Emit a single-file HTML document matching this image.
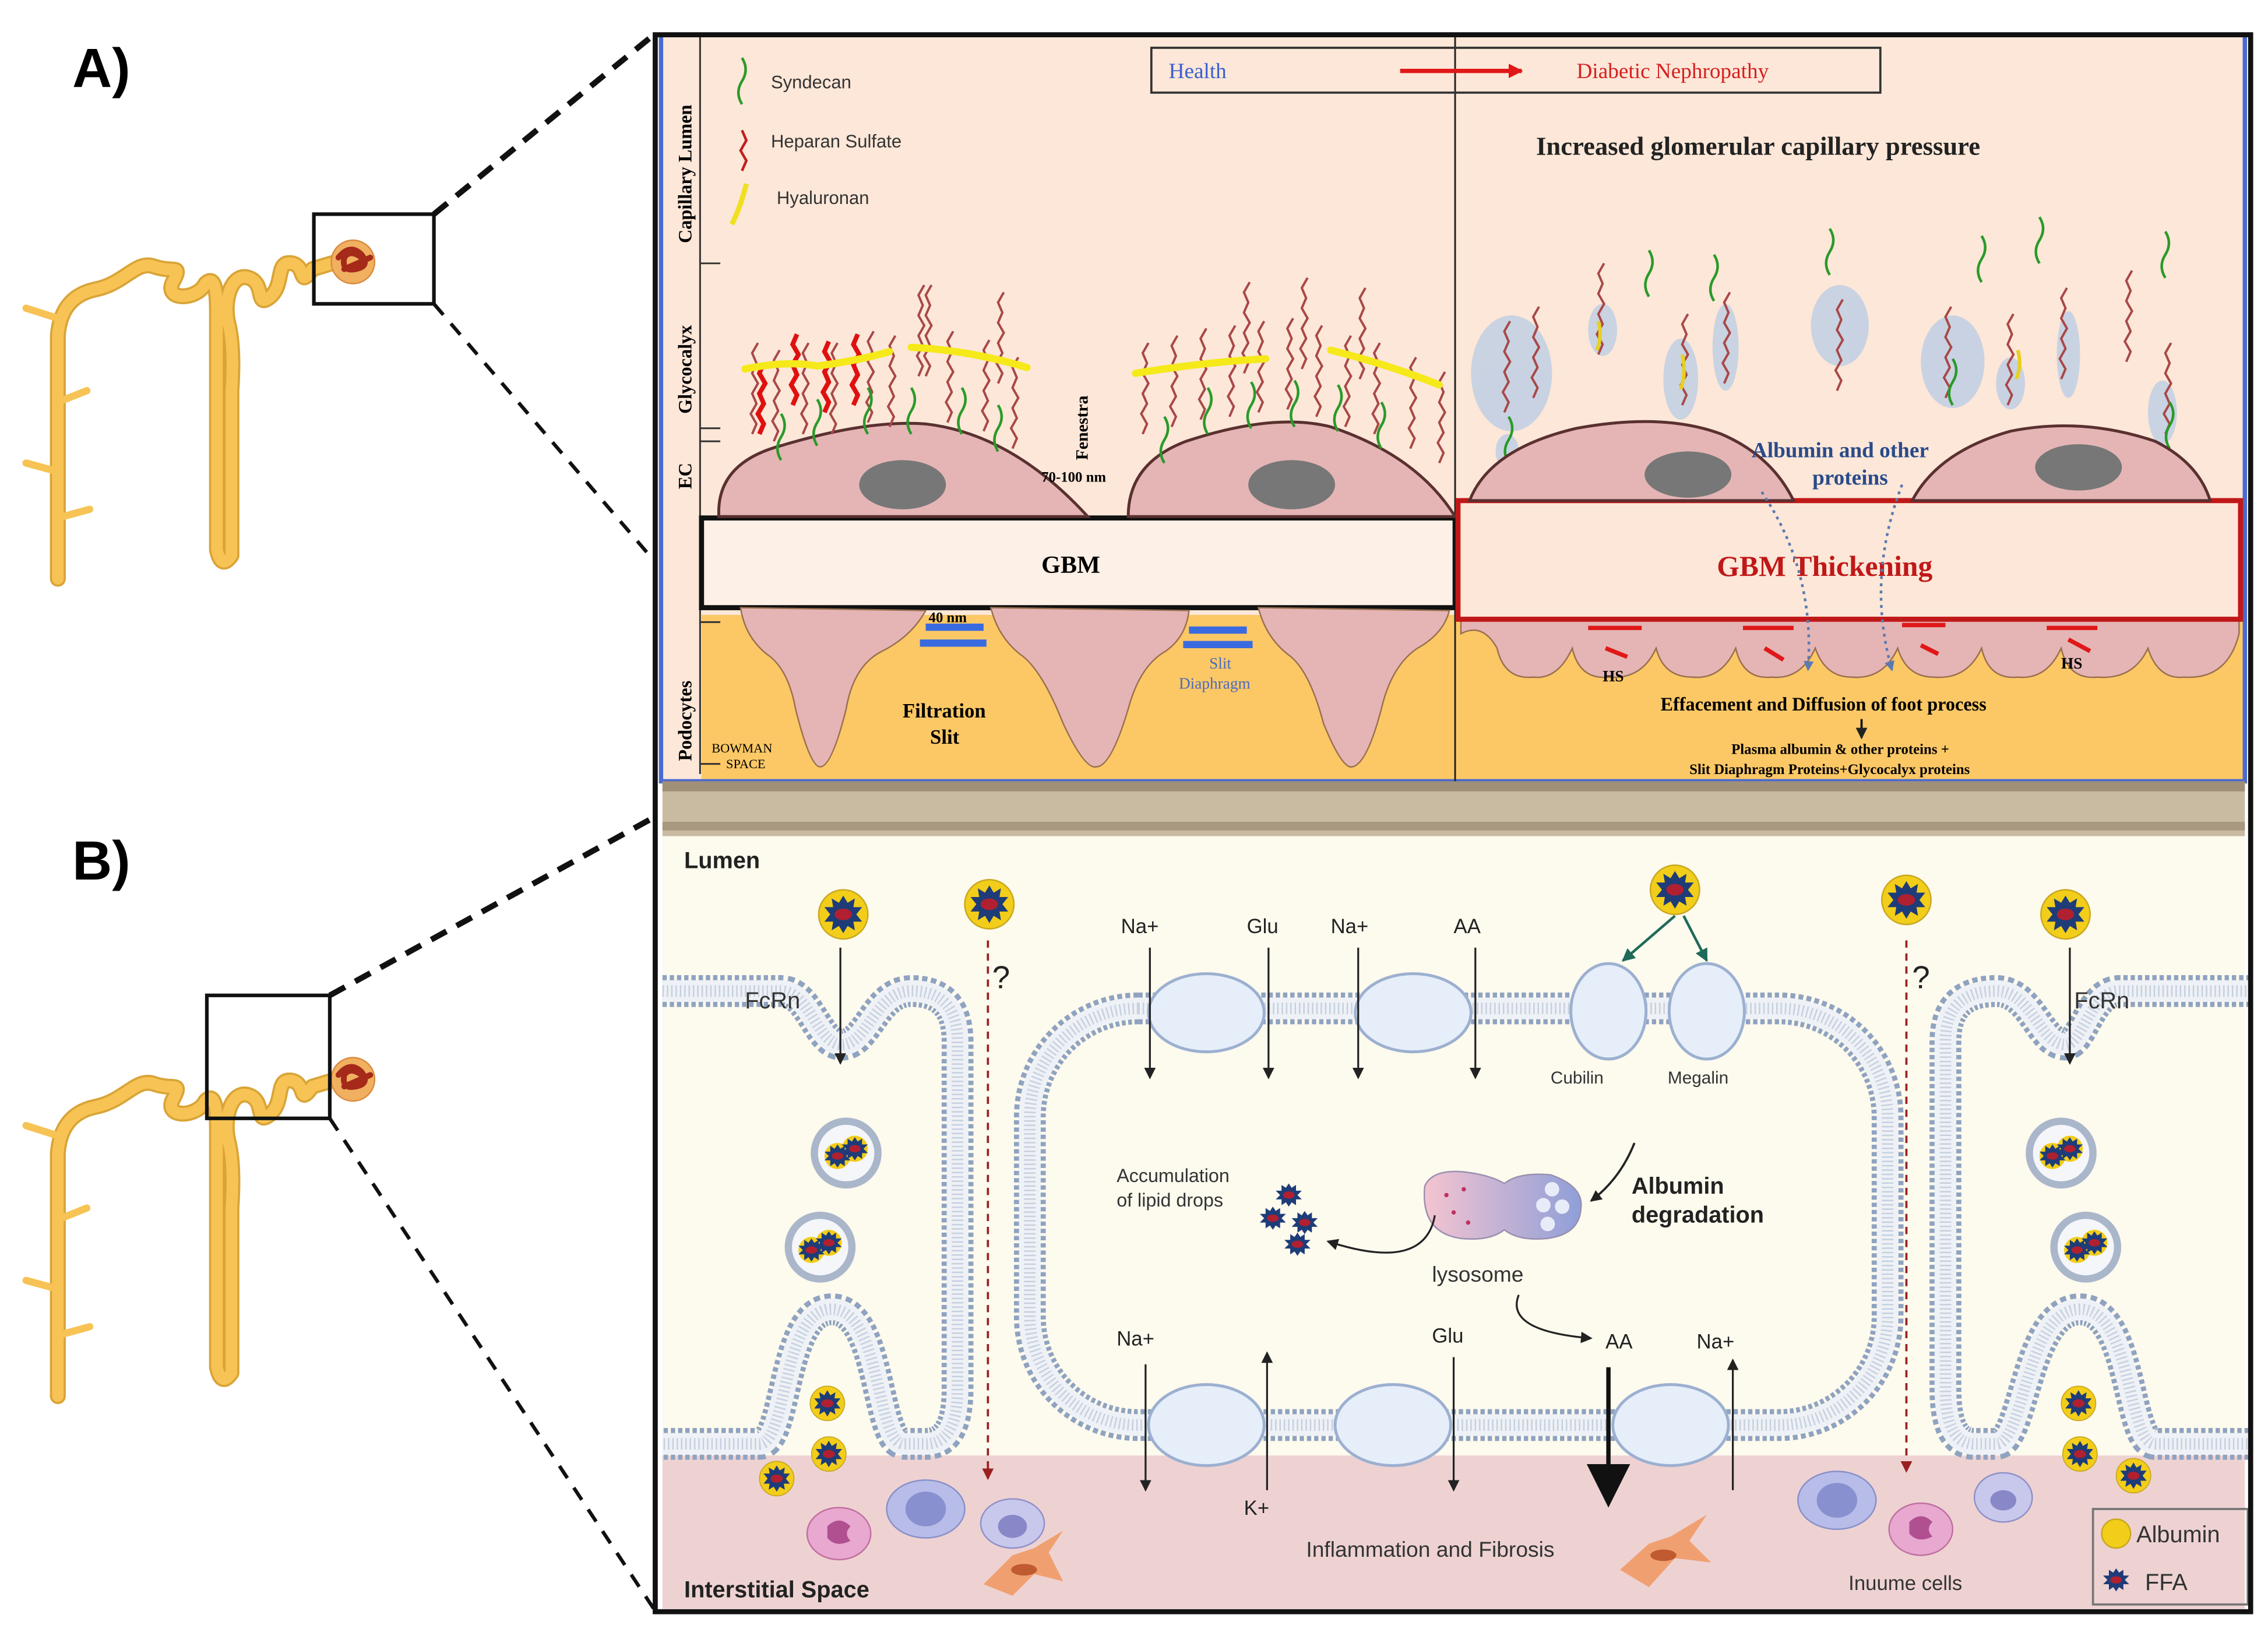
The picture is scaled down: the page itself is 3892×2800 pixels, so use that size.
<!DOCTYPE html>
<html><head><meta charset="utf-8"><style>
html,body{margin:0;padding:0;background:#fff;}
svg{display:block;}
.s{font-family:"Liberation Serif",serif;}
.a{font-family:"Liberation Sans",sans-serif;}
</style></head><body>
<svg width="3892" height="2800" viewBox="0 0 1568 1128" xmlns="http://www.w3.org/2000/svg">
<defs>
<g id="neph">
<path d="M40,400 L40,232 Q42,205 66,200 C86,196 94,180 106,184 C120,189 126,182 120,194 C112,208 136,208 142,196 Q150,188 150,215 L150,380 Q153,394 160,384 L160,270 Q162,240 158,224 C154,208 160,188 172,192 C184,196 176,214 187,205 C197,196 190,180 202,182 C212,184 206,200 216,186 L236,180" fill="none" stroke="#d9a437" stroke-width="11" stroke-linecap="round" stroke-linejoin="round"/>
<path d="M40,400 L40,232 Q42,205 66,200 C86,196 94,180 106,184 C120,189 126,182 120,194 C112,208 136,208 142,196 Q150,188 150,215 L150,380 Q153,394 160,384 L160,270 Q162,240 158,224 C154,208 160,188 172,192 C184,196 176,214 187,205 C197,196 190,180 202,182 C212,184 206,200 216,186 L236,180" fill="none" stroke="#f7c355" stroke-width="8" stroke-linecap="round" stroke-linejoin="round"/>
<g stroke="#f7c355" stroke-width="5" stroke-linecap="round"><line x1="18" y1="213" x2="40" y2="220"/><line x1="40" y1="278" x2="60" y2="270"/><line x1="18" y1="320" x2="40" y2="326"/><line x1="40" y1="358" x2="62" y2="352"/></g>
<circle cx="244" cy="181" r="15" fill="#f0b060" stroke="#d98b40"/>
<path d="M234,178 q8,-10 16,-2 q6,8 -4,10 q-10,2 -8,-8 q4,-6 12,0 M238,186 l18,-8" fill="none" stroke="#a52a1a" stroke-width="4" stroke-linecap="round"/>
</g>
<path id="hs" d="M0,0 l3,-7 l-4,-7 l4,-7 l-3,-7 l4,-7 l-4,-7 l3,-7 l-3,-7 l4,-7" fill="none" stroke="#a84848" stroke-width="1.6"/>
<path id="hsR" d="M0,0 l3,-7 l-4,-7 l4,-7 l-3,-7 l4,-7 l-4,-7 l3,-7" fill="none" stroke="#e01010" stroke-width="3.2"/>
<path id="syn" d="M0,0 q-5,-8 0,-16 q5,-8 0,-16" fill="none" stroke="#2a9a2a" stroke-width="1.8"/>
<g id="alb"><circle r="17" fill="#f2cd1a" stroke="#c8a820"/><polygon points="0,-13 3,-8 8,-11 7,-5 13,-5 9,0 13,5 7,5 8,11 3,8 0,13 -3,8 -8,11 -7,5 -13,5 -9,0 -13,-5 -7,-5 -8,-11 -3,-8" fill="#1e3c78"/><ellipse rx="6" ry="4" fill="#b02030"/></g>
<g id="ffa"><polygon points="0,-8 2,-5 5,-7 5,-3 9,-3 6,0 9,3 5,3 5,7 2,5 0,8 -2,5 -5,7 -5,3 -9,3 -6,0 -9,-3 -5,-3 -5,-7 -2,-5" fill="#1e3c78"/><ellipse rx="4" ry="2.5" fill="#b02030"/></g>
<g id="ves"><circle r="22" fill="#f4f6fa" stroke="#aab6ca" stroke-width="5"/><circle cx="-6" cy="2" r="9" fill="#f2cd1a"/><circle cx="6" cy="-3" r="9" fill="#f2cd1a"/><use href="#ffa" x="-6" y="2" transform=""/><use href="#ffa" x="6" y="-3"/></g>
<marker id="ar" markerWidth="8" markerHeight="8" refX="7" refY="4" orient="auto" markerUnits="userSpaceOnUse"><path d="M0,0 L8,4 L0,8 Z" fill="#222"/></marker>
<marker id="arR" markerWidth="10" markerHeight="10" refX="9" refY="5" orient="auto" markerUnits="userSpaceOnUse"><path d="M0,0 L10,5 L0,10 Z" fill="#e01818"/></marker>
<marker id="arD" markerWidth="8" markerHeight="8" refX="7" refY="4" orient="auto" markerUnits="userSpaceOnUse"><path d="M0,0 L8,4 L0,8 Z" fill="#9a2020"/></marker>
<marker id="arG" markerWidth="9" markerHeight="9" refX="8" refY="4.5" orient="auto" markerUnits="userSpaceOnUse"><path d="M0,0 L9,4.5 L0,9 Z" fill="#1f6a5a"/></marker>
<marker id="arB" markerWidth="7" markerHeight="7" refX="6" refY="3.5" orient="auto" markerUnits="userSpaceOnUse"><path d="M0,0 L7,3.5 L0,7 Z" fill="#5a7ab0"/></marker>
<linearGradient id="lys" x1="0" x2="1"><stop offset="0" stop-color="#f4c4d0"/><stop offset="1" stop-color="#8f9fd8"/></linearGradient>
</defs>

<!-- left nephrons -->
<use href="#neph"/>
<use href="#neph" y="565"/>
<text x="50" y="60" class="a" font-size="38" font-weight="bold">A)</text>
<text x="50" y="608" class="a" font-size="38" font-weight="bold">B)</text>
<rect x="217" y="148" width="83" height="62" fill="none" stroke="#111" stroke-width="2.5"/>
<rect x="143" y="688" width="85" height="85" fill="none" stroke="#111" stroke-width="2.5"/>
<line x1="300" y1="148" x2="452" y2="24" stroke="#111" stroke-width="4" stroke-dasharray="12 8"/>
<line x1="300" y1="210" x2="450" y2="385" stroke="#111" stroke-width="2.5" stroke-dasharray="10 8"/>
<line x1="228" y1="688" x2="452" y2="565" stroke="#111" stroke-width="4" stroke-dasharray="12 8"/>
<line x1="228" y1="773" x2="452" y2="1112" stroke="#111" stroke-width="2.5" stroke-dasharray="10 8"/>

<!-- top panel -->
<rect x="457" y="24" width="1095" height="516" fill="#fce7d8"/>
<rect x="485" y="425" width="1067" height="115" fill="#fcc865"/>
<rect x="457" y="24" width="1095" height="516" fill="none" stroke="#4a6ad0" stroke-width="3"/>
<line x1="1006" y1="24" x2="1006" y2="545" stroke="#222" stroke-width="1.2"/>
<line x1="484" y1="24" x2="484" y2="535" stroke="#333" stroke-width="1.2"/>
<g stroke="#333" stroke-width="1.2"><line x1="484" y1="182" x2="498" y2="182"/><line x1="484" y1="296" x2="498" y2="296"/><line x1="484" y1="305" x2="498" y2="305"/><line x1="484" y1="430" x2="498" y2="430"/><line x1="484" y1="528" x2="498" y2="528"/></g>
<text class="s" font-size="13" font-weight="bold" transform="translate(478,168) rotate(-90)">Capillary Lumen</text>
<text class="s" font-size="13" font-weight="bold" transform="translate(478,286) rotate(-90)">Glycocalyx</text>
<text class="s" font-size="13" font-weight="bold" transform="translate(478,338) rotate(-90)">EC</text>
<text class="s" font-size="13" font-weight="bold" transform="translate(478,526) rotate(-90)">Podocytes</text>
<text class="s" font-size="9" x="492" y="520">BOWMAN</text><text class="s" font-size="9" x="502" y="531">SPACE</text>
<!-- legend -->
<use href="#syn" x="513" y="72"/>
<text class="a" x="533" y="61" font-size="12.5" fill="#333">Syndecan</text>
<path d="M513,118 l3,-7 l-4,-7 l4,-7 l-3,-7" fill="none" stroke="#c02020" stroke-width="1.8"/>
<text class="a" x="533" y="102" font-size="12.5" fill="#333">Heparan Sulfate</text>
<path d="M506,155 q6,-12 10,-28" fill="none" stroke="#f0e020" stroke-width="3.5"/>
<text class="a" x="537" y="141" font-size="12.5" fill="#333">Hyaluronan</text>
<rect x="796" y="33" width="504" height="31" fill="none" stroke="#333" stroke-width="1.5"/>
<text class="s" x="808" y="54" font-size="15" fill="#3a5fd0">Health</text>
<line x1="968" y1="49" x2="1052" y2="49" stroke="#e01818" stroke-width="3" marker-end="url(#arR)"/>
<text class="s" x="1090" y="54" font-size="15" fill="#d81f1f">Diabetic Nephropathy</text>
<text class="s" x="1062" y="107" font-size="18" font-weight="bold" fill="#222">Increased glomerular capillary  pressure</text>

<!-- GBM -->
<rect x="485" y="358" width="521" height="62" fill="#fdf0e6" stroke="#111" stroke-width="3.5"/>
<text class="s" x="720" y="396" font-size="17" font-weight="bold">GBM</text>
<!-- left podocyte feet -->
<g fill="#e5b5b5" stroke="#9a7050" stroke-width="1">
<path d="M512,420 Q515,440 530,452 Q545,462 550,490 Q560,530 567,530 Q575,530 585,490 Q590,460 610,450 Q630,440 640,422 Z"/>
<path d="M685,420 Q690,440 705,452 Q720,462 735,500 Q750,532 758,530 Q768,530 780,490 Q788,460 806,450 Q820,440 822,422 Z"/>
<path d="M870,420 Q875,440 890,452 Q905,462 915,500 Q928,532 935,530 Q945,528 955,490 Q962,460 980,448 Q998,438 1002,422 Z"/>
</g>
<g fill="#3a6ae0"><rect x="640" y="431" width="40" height="5"/><rect x="636" y="442" width="46" height="5"/><rect x="822" y="433" width="40" height="5"/><rect x="818" y="443" width="48" height="5"/></g>
<text class="s" x="642" y="430" font-size="10" font-weight="bold">40 nm</text>
<text class="s" x="836" y="462" font-size="11" fill="#4a6ac0">Slit</text>
<text class="s" x="815" y="476" font-size="11" fill="#4a6ac0">Diaphragm</text>
<text class="s" x="624" y="496" font-size="14" font-weight="bold">Filtration</text>
<text class="s" x="643" y="514" font-size="14" font-weight="bold">Slit</text>
<!-- left EC cells -->
<g fill="#e5b5b5" stroke="#5a3030" stroke-width="2">
<path d="M497,357 Q495,320 540,308 Q600,290 640,293 Q700,300 752,357 Z"/>
<path d="M780,357 Q780,320 820,305 Q880,285 920,295 Q980,315 1006,357 Z"/>
</g>
<ellipse cx="624" cy="335" rx="30" ry="17" fill="#777"/>
<ellipse cx="893" cy="335" rx="30" ry="17" fill="#777"/>
<text class="s" font-size="12" font-weight="bold" transform="translate(752,318) rotate(-90)">Fenestra</text>
<text class="s" x="720" y="333" font-size="10" font-weight="bold">70-100 nm</text>
<!-- left glycocalyx -->
<g>
<use href="#hs" x="520" y="300"/><use href="#hs" x="535" y="305"/><use href="#hs" x="555" y="300"/><use href="#hs" x="575" y="300"/><use href="#hs" x="600" y="292"/><use href="#hs" x="615" y="295"/><use href="#hs" x="635" y="290" transform="translate(0,-30)"/><use href="#hs" x="655" y="292"/><use href="#hs" x="680" y="298"/><use href="#hs" x="700" y="310"/><use href="#hs" x="640" y="260"/><use href="#hs" x="690" y="265"/>
<use href="#hsR" x="525" y="300"/><use href="#hsR" x="548" y="280"/><use href="#hsR" x="570" y="285"/><use href="#hsR" x="590" y="280"/>
<use href="#hs" x="790" y="300"/><use href="#hs" x="810" y="295"/><use href="#hs" x="830" y="290"/><use href="#hs" x="850" y="288"/><use href="#hs" x="870" y="285"/><use href="#hs" x="890" y="283"/><use href="#hs" x="910" y="288"/><use href="#hs" x="930" y="295"/><use href="#hs" x="950" y="300"/><use href="#hs" x="975" y="310"/><use href="#hs" x="995" y="320"/><use href="#hs" x="900" y="255"/><use href="#hs" x="860" y="258"/><use href="#hs" x="940" y="262"/>
<use href="#syn" x="540" y="318"/><use href="#syn" x="565" y="308"/><use href="#syn" x="600" y="300"/><use href="#syn" x="630" y="300"/><use href="#syn" x="665" y="300"/><use href="#syn" x="690" y="312"/>
<use href="#syn" x="805" y="320"/><use href="#syn" x="835" y="300"/><use href="#syn" x="865" y="296"/><use href="#syn" x="895" y="295"/><use href="#syn" x="925" y="298"/><use href="#syn" x="955" y="310"/>
</g>
<path d="M515,255 q30,-6 50,-2 q30,-4 50,-10 M630,240 q40,2 80,14 M785,258 q50,-8 90,-10 M920,242 q40,10 75,24" fill="none" stroke="#f5e91a" stroke-width="5" stroke-linecap="round"/>

<!-- right side -->
<g fill="#b8cce6" opacity="0.75">
<ellipse cx="1045" cy="258" rx="28" ry="40"/><ellipse cx="1108" cy="228" rx="10" ry="18"/><ellipse cx="1162" cy="262" rx="12" ry="28"/><ellipse cx="1193" cy="240" rx="9" ry="30"/><ellipse cx="1272" cy="225" rx="20" ry="28"/><ellipse cx="1350" cy="250" rx="22" ry="32"/><ellipse cx="1390" cy="265" rx="10" ry="18"/><ellipse cx="1430" cy="245" rx="8" ry="30"/><ellipse cx="1495" cy="285" rx="10" ry="22"/><ellipse cx="1042" cy="312" rx="8" ry="12"/>
</g>
<use href="#hs" x="1040" y="285"/><use href="#hs" x="1060" y="275"/><use href="#hs" x="1105" y="245" transform=""/><use href="#hs" x="1163" y="280"/><use href="#hs" x="1192" y="265"/><use href="#hs" x="1270" y="270"/><use href="#hs" x="1345" y="275"/><use href="#hs" x="1388" y="280"/><use href="#hs" x="1425" y="262"/><use href="#hs" x="1497" y="300"/><use href="#hs" x="1470" y="250"/>
<use href="#syn" x="1140" y="205"/><use href="#syn" x="1185" y="208"/><use href="#syn" x="1265" y="190"/><use href="#syn" x="1370" y="195"/><use href="#syn" x="1410" y="182"/><use href="#syn" x="1497" y="192"/><use href="#syn" x="1043" y="320"/><use href="#syn" x="1350" y="280"/><use href="#syn" x="1500" y="310"/>
<path d="M1105,222 q3,10 -1,20 M1163,245 q3,12 -1,24 M1395,242 q3,10 -1,20" fill="none" stroke="#e8d020" stroke-width="2.5"/>
<!-- right podocytes -->
<path d="M1010,428 L1548,428 L1548,438 Q1540,470 1510,468 Q1492,470 1485,448 Q1475,470 1450,468 Q1430,470 1425,448 Q1415,470 1395,468 Q1375,470 1370,448 Q1360,470 1337,468 Q1318,468 1312,448 Q1302,470 1280,468 Q1262,468 1255,448 Q1245,470 1225,468 Q1205,470 1200,448 Q1190,470 1170,468 Q1150,468 1145,448 Q1135,470 1112,468 Q1092,470 1087,448 Q1077,470 1060,468 Q1040,470 1035,448 Q1025,430 1010,438 Z" fill="#e5b5b5" stroke="#9a7050" stroke-width="1"/>
<rect x="1008" y="346" width="541" height="82" fill="#fce7d8" stroke="#c01818" stroke-width="3.5"/>
<g fill="#e5b5b5" stroke="#5a3030" stroke-width="2">
<path d="M1016,346 Q1030,310 1090,296 Q1150,285 1190,300 Q1225,315 1240,346 Z"/>
<path d="M1322,346 Q1340,312 1390,298 Q1440,288 1490,305 Q1520,320 1528,346 Z"/>
</g>
<ellipse cx="1167" cy="328" rx="30" ry="16" fill="#777"/>
<ellipse cx="1437" cy="323" rx="30" ry="16" fill="#777"/>
<text class="s" x="1187" y="398" font-size="20" font-weight="bold" fill="#c01818">GBM Thickening</text>
<text class="s" x="1211" y="316" font-size="15" font-weight="bold" fill="#2a4a8a">Albumin and other</text>
<text class="s" x="1253" y="335" font-size="15" font-weight="bold" fill="#2a4a8a">proteins</text>
<path d="M1218,340 Q1255,395 1250,463" fill="none" stroke="#5a7ab0" stroke-width="1.8" stroke-dasharray="2 3" marker-end="url(#arB)"/>
<path d="M1315,335 Q1290,400 1308,463" fill="none" stroke="#5a7ab0" stroke-width="1.8" stroke-dasharray="2 3" marker-end="url(#arB)"/>
<g stroke="#e01818" stroke-width="3"><line x1="1098" y1="434" x2="1135" y2="434"/><line x1="1110" y1="448" x2="1125" y2="454"/><line x1="1205" y1="434" x2="1240" y2="434"/><line x1="1220" y1="448" x2="1233" y2="456"/><line x1="1315" y1="432" x2="1345" y2="432"/><line x1="1328" y1="446" x2="1340" y2="452"/><line x1="1415" y1="434" x2="1450" y2="434"/><line x1="1430" y1="442" x2="1445" y2="450"/></g>
<text class="s" x="1108" y="471" font-size="11" font-weight="bold">HS</text>
<text class="s" x="1425" y="462" font-size="11" font-weight="bold">HS</text>
<text class="s" x="1148" y="491" font-size="13" font-weight="bold">Effacement and Diffusion of foot process</text>
<line x1="1287" y1="497" x2="1287" y2="510" stroke="#111" stroke-width="1.5" marker-end="url(#ar)"/>
<text class="s" x="1197" y="521" font-size="10" font-weight="bold">Plasma albumin &amp; other proteins +</text>
<text class="s" x="1168" y="535" font-size="10" font-weight="bold">Slit Diaphragm Proteins+Glycocalyx proteins</text>

<!-- brown separator -->
<rect x="458" y="540" width="1094" height="38" fill="#c9bba2"/>
<rect x="458" y="540" width="1094" height="7" fill="#a09078"/>
<rect x="458" y="568" width="1094" height="6" fill="#a89880"/>

<!-- bottom panel -->
<rect x="458" y="578" width="1094" height="428" fill="#fdfaee"/>
<rect x="458" y="1006" width="1094" height="106" fill="#eed2d2"/>
<g fill="none" stroke-linejoin="round">
<g stroke="#8fa3c0" stroke-width="22" stroke-dasharray="3 2">
<path d="M458,685 L540,685 C560,685 565,722 582,722 C600,722 605,685 630,685 Q662,685 662,720 L662,960 Q662,998 640,998 L625,998 C605,998 610,905 575,905 C540,905 545,998 525,998 L458,998"/>
<rect x="712" y="697" width="593" height="288" rx="75"/>
<path d="M1556,685 L1465,685 C1445,685 1440,722 1428,722 C1410,722 1405,685 1380,685 Q1345,685 1345,720 L1345,960 Q1345,998 1365,998 L1380,998 C1400,998 1400,905 1438,905 C1475,905 1470,998 1490,998 L1556,998"/>
</g>
<g stroke="#eef1f6" stroke-width="15">
<path d="M458,685 L540,685 C560,685 565,722 582,722 C600,722 605,685 630,685 Q662,685 662,720 L662,960 Q662,998 640,998 L625,998 C605,998 610,905 575,905 C540,905 545,998 525,998 L458,998"/>
<rect x="712" y="697" width="593" height="288" rx="75"/>
<path d="M1556,685 L1465,685 C1445,685 1440,722 1428,722 C1410,722 1405,685 1380,685 Q1345,685 1345,720 L1345,960 Q1345,998 1365,998 L1380,998 C1400,998 1400,905 1438,905 C1475,905 1470,998 1490,998 L1556,998"/>
</g>
<g stroke="#c6d0de" stroke-width="8" stroke-dasharray="1 2">
<path d="M458,685 L540,685 C560,685 565,722 582,722 C600,722 605,685 630,685 Q662,685 662,720 L662,960 Q662,998 640,998 L625,998 C605,998 610,905 575,905 C540,905 545,998 525,998 L458,998"/>
<rect x="712" y="697" width="593" height="288" rx="75"/>
<path d="M1556,685 L1465,685 C1445,685 1440,722 1428,722 C1410,722 1405,685 1380,685 Q1345,685 1345,720 L1345,960 Q1345,998 1365,998 L1380,998 C1400,998 1400,905 1438,905 C1475,905 1470,998 1490,998 L1556,998"/>
</g>
</g>
<!-- transporters -->
<g fill="#e6eefa" stroke="#9cb0d0" stroke-width="2">
<ellipse cx="834" cy="700" rx="40" ry="27"/><ellipse cx="977" cy="700" rx="40" ry="27"/>
<ellipse cx="1112" cy="699" rx="26" ry="33"/><ellipse cx="1180" cy="699" rx="26" ry="33"/>
<ellipse cx="834" cy="985" rx="40" ry="28"/><ellipse cx="963" cy="985" rx="40" ry="28"/><ellipse cx="1155" cy="985" rx="40" ry="28"/>
</g>
<g class="a" font-size="14" fill="#222">
<text x="775" y="645">Na+</text><text x="862" y="645">Glu</text><text x="920" y="645">Na+</text><text x="1005" y="645">AA</text>
<text x="772" y="930">Na+</text><text x="990" y="928">Glu</text><text x="1110" y="932">AA</text><text x="1173" y="932">Na+</text><text x="860" y="1047">K+</text>
</g>
<text class="a" x="1072" y="749" font-size="12" fill="#333">Cubilin</text>
<text class="a" x="1153" y="749" font-size="12" fill="#333">Megalin</text>
<g stroke="#222" stroke-width="1.3">
<line x1="795" y1="655" x2="795" y2="745" marker-end="url(#ar)"/><line x1="877" y1="655" x2="877" y2="745" marker-end="url(#ar)"/><line x1="939" y1="655" x2="939" y2="745" marker-end="url(#ar)"/><line x1="1020" y1="655" x2="1020" y2="745" marker-end="url(#ar)"/>
<line x1="792" y1="943" x2="792" y2="1030" marker-end="url(#ar)"/><line x1="876" y1="1030" x2="876" y2="935" marker-end="url(#ar)"/><line x1="1005" y1="938" x2="1005" y2="1030" marker-end="url(#ar)"/><line x1="1198" y1="1030" x2="1198" y2="940" marker-end="url(#ar)"/>
<line x1="581" y1="655" x2="581" y2="735" marker-end="url(#ar)"/><line x1="1431" y1="655" x2="1431" y2="735" marker-end="url(#ar)"/>
</g>
<line x1="1112" y1="945" x2="1112" y2="1015" stroke="#111" stroke-width="3"/>
<polygon points="1097,1012 1127,1012 1112,1042" fill="#111"/>
<line x1="1158" y1="633" x2="1122" y2="664" stroke="#1f6a5a" stroke-width="1.8" marker-end="url(#arG)"/>
<line x1="1164" y1="633" x2="1180" y2="664" stroke="#1f6a5a" stroke-width="1.8" marker-end="url(#arG)"/>
<text class="a" x="515" y="697" font-size="16" fill="#333">FcRn</text>
<text class="a" x="1434" y="697" font-size="16" fill="#333">FcRn</text>
<line x1="683" y1="650" x2="683" y2="1022" stroke="#9a2020" stroke-width="1.5" stroke-dasharray="5 4" marker-end="url(#arD)"/>
<line x1="1318" y1="650" x2="1318" y2="1017" stroke="#9a2020" stroke-width="1.5" stroke-dasharray="5 4" marker-end="url(#arD)"/>
<text class="a" x="686" y="683" font-size="22" fill="#222">?</text>
<text class="a" x="1322" y="683" font-size="22" fill="#222">?</text>
<use href="#alb" x="583" y="632"/><use href="#alb" x="684" y="625"/><use href="#alb" x="1158" y="615"/><use href="#alb" x="1318" y="622"/><use href="#alb" x="1428" y="632"/>
<use href="#ves" x="585" y="797"/><use href="#ves" x="567" y="862"/><use href="#ves" x="1425" y="797"/><use href="#ves" x="1442" y="862"/>
<g transform="translate(572,970) scale(0.7)"><use href="#alb"/></g><g transform="translate(573,1005) scale(0.7)"><use href="#alb"/></g><g transform="translate(537,1022) scale(0.7)"><use href="#alb"/></g>
<g transform="translate(1437,970) scale(0.7)"><use href="#alb"/></g><g transform="translate(1438,1005) scale(0.7)"><use href="#alb"/></g><g transform="translate(1475,1020) scale(0.7)"><use href="#alb"/></g>
<!-- lysosome -->
<path d="M985,820 Q990,808 1012,810 Q1030,812 1040,818 Q1050,810 1072,812 Q1095,820 1093,835 Q1092,853 1070,856 Q1050,858 1040,850 Q1030,858 1010,856 Q982,852 985,820 Z" fill="url(#lys)" stroke="#9a90b0"/>
<g fill="#e8ecf8"><circle cx="1073" cy="822" r="5"/><circle cx="1067" cy="833" r="5"/><circle cx="1080" cy="834" r="5"/><circle cx="1070" cy="846" r="5"/></g>
<g fill="#c03060"><circle cx="1000" cy="826" r="1.5"/><circle cx="1012" cy="822" r="1.5"/><circle cx="1005" cy="838" r="1.5"/><circle cx="1015" cy="845" r="1.5"/></g>
<path d="M1130,790 Q1120,815 1100,830" fill="none" stroke="#222" stroke-width="1.5" marker-end="url(#ar)"/>
<path d="M992,840 Q985,880 918,858" fill="none" stroke="#222" stroke-width="1.3" marker-end="url(#ar)"/>
<path d="M1050,895 Q1040,920 1100,925" fill="none" stroke="#222" stroke-width="1.3" marker-end="url(#ar)"/>
<text class="a" x="1128" y="825" font-size="16" font-weight="bold" fill="#222">Albumin</text>
<text class="a" x="1128" y="845" font-size="16" font-weight="bold" fill="#222">degradation</text>
<text class="a" x="990" y="886" font-size="15" fill="#333">lysosome</text>
<text class="a" x="772" y="817" font-size="13" fill="#333">Accumulation</text>
<text class="a" x="772" y="834" font-size="13" fill="#333">of lipid drops</text>
<use href="#ffa" x="891" y="826"/><use href="#ffa" x="880" y="842"/><use href="#ffa" x="902" y="845"/><use href="#ffa" x="897" y="860"/>
<!-- interstitial cells -->
<g>
<ellipse cx="580" cy="1060" rx="22" ry="18" fill="#e8a8d0" stroke="#c070a0"/><path d="M572,1055 q8,-8 16,0 q-5,5 0,10 q-10,5 -16,-2" fill="#b05090"/>
<ellipse cx="640" cy="1043" rx="27" ry="20" fill="#b8bce8" stroke="#8890c8"/><ellipse cx="640" cy="1043" rx="14" ry="12" fill="#8890d0"/>
<ellipse cx="700" cy="1053" rx="22" ry="17" fill="#c8c8ec" stroke="#9090c8"/><ellipse cx="700" cy="1055" rx="10" ry="8" fill="#8888c8"/>
<path d="M680,1095 l20,-20 l15,-5 l20,-12 l-10,15 l10,20 l-20,-5 l-15,15 z" fill="#f0a070"/><ellipse cx="708" cy="1085" rx="9" ry="4" fill="#c05a30"/>
<path d="M1120,1085 l20,-18 l15,-5 l25,-15 l-12,18 l15,15 l-25,-3 l-18,20 z" fill="#f0a070"/><ellipse cx="1150" cy="1075" rx="9" ry="4" fill="#c05a30"/>
<ellipse cx="1270" cy="1037" rx="27" ry="20" fill="#b8bce8" stroke="#8890c8"/><ellipse cx="1270" cy="1037" rx="14" ry="12" fill="#8890d0"/>
<ellipse cx="1328" cy="1057" rx="22" ry="18" fill="#e8a8d0" stroke="#c070a0"/><path d="M1320,1052 q8,-8 16,0 q-5,5 0,10 q-10,5 -16,-2" fill="#b05090"/>
<ellipse cx="1385" cy="1035" rx="20" ry="17" fill="#c8c8ec" stroke="#9090c8"/><ellipse cx="1385" cy="1037" rx="9" ry="7" fill="#8888c8"/>
</g>
<text class="a" x="473" y="600" font-size="16" font-weight="bold" fill="#222">Lumen</text>
<text class="a" x="473" y="1104" font-size="16" font-weight="bold" fill="#222">Interstitial Space</text>
<text class="a" x="903" y="1076" font-size="15" fill="#333">Inflammation and Fibrosis</text>
<text class="a" x="1278" y="1099" font-size="14" fill="#333">Inuume cells</text>
<rect x="1447" y="1043" width="107" height="66" fill="none" stroke="#777" stroke-width="1.5"/>
<circle cx="1463" cy="1060" r="10" fill="#f2cd1a" stroke="#c8a820"/>
<text class="a" x="1477" y="1066" font-size="16" fill="#333">Albumin</text>
<use href="#ffa" x="1463" y="1092"/>
<text class="a" x="1483" y="1099" font-size="16" fill="#333">FFA</text>

<!-- outer border -->
<rect x="453" y="24" width="1103" height="1090" fill="none" stroke="#111" stroke-width="3.5"/>
</svg>
</body></html>
